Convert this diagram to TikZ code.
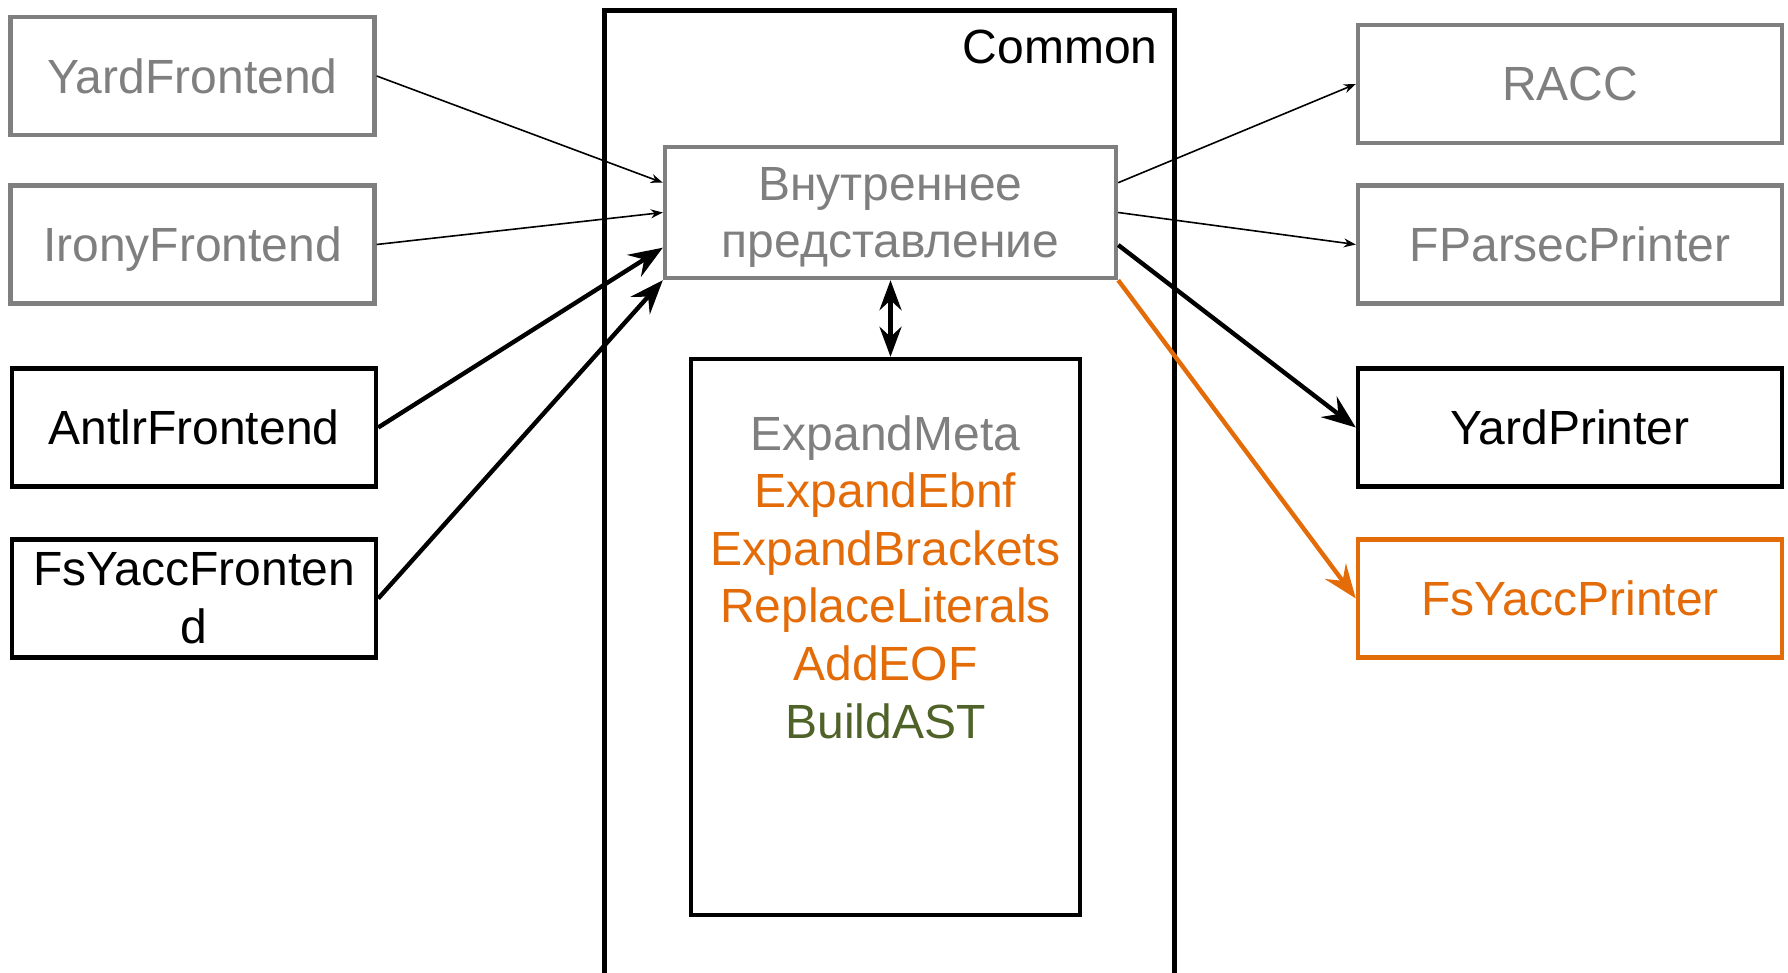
\documentclass[tikz,border=0pt]{standalone}
\usepackage{fontspec}
\setmainfont{Liberation Sans}
\usetikzlibrary{arrows.meta,calc}
\definecolor{boxgray}{HTML}{7F7F7F}
\definecolor{pporange}{HTML}{E36C09}
\definecolor{ppgreen}{HTML}{4F6228}
\begin{document}
\begin{tikzpicture}[x=0.5pt,y=-0.5pt,
  txt/.style={font=\fontsize{24}{28.8}\selectfont, align=center},
  box/.style={txt, draw, rectangle, line width=2.2pt, inner sep=0pt},
  sidebox/.style={box, minimum width=182pt, minimum height=59pt},
  rightbox/.style={box, minimum width=212pt, minimum height=59pt},
  grayed/.style={draw=boxgray, text=boxgray},
  thinarrow/.style={draw=black, line width=0.8pt, -{Stealth[length=6pt,width=4.5pt]}},
  thickarrow/.style={draw=black, line width=2.2pt, -{Stealth[length=17pt,width=13pt,inset=6pt]}},
  orangearrow/.style={thickarrow, draw=pporange, fill=pporange},
  dblarrow/.style={draw=black, line width=2.2pt, {Stealth[length=15pt,width=11pt,inset=5pt]}-{Stealth[length=15pt,width=11pt,inset=5pt]}}
]
\useasboundingbox (0,0) rectangle (1788,973);
% Common frame
\draw[line width=2.5pt] (604,973) -- (604,10.5) -- (1174,10.5) -- (1174,973);
\node[txt, anchor=east, inner sep=0pt] (commonlbl) at (1158,47) {Common};
% left boxes
\node[sidebox, grayed] (yardF) at (192.5,76) {YardFrontend};
\node[sidebox, grayed, text depth=0pt] (ironyF) at (192.5,244.5) {IronyFrontend};
\node[sidebox] (antlrF) at (194,427.5) {AntlrFrontend};
\node[sidebox] (fsyaccF) at (194,598.5) {FsYaccFronten\\d};
% right boxes
\node[rightbox, grayed] (racc) at (1570,84) {RACC};
\node[rightbox, grayed] (fparsec) at (1570,244.5) {FParsecPrinter};
\node[rightbox] (yardP) at (1570,427.5) {YardPrinter};
\node[rightbox, draw=pporange, text=pporange] (fsyaccP) at (1570,598.5) {FsYaccPrinter};
% internal representation
\node[box, grayed, minimum width=225.5pt, minimum height=65.5pt, text depth=0pt] (ir) at (890.5,212.5) {Внутреннее\\представление};
% passes
\node[box, minimum width=194.5pt, minimum height=278pt] (passes) at (885.5,637) {};
\node[txt, inner sep=0pt, anchor=north] (passlist) at (885.5,415) {%
  \textcolor{boxgray}{ExpandMeta}\\
  \textcolor{pporange}{ExpandEbnf}\\
  \textcolor{pporange}{ExpandBrackets}\\
  \textcolor{pporange}{ReplaceLiterals}\\
  \textcolor{pporange}{AddEOF}\\
  \textcolor{ppgreen}{BuildAST}};
% connectors in
\draw[thinarrow] (yardF.east) -- ($(ir.north west)!0.28!(ir.south west)$);
\draw[thinarrow] (ironyF.east) -- ($(ir.north west)!0.5!(ir.south west)$);
\draw[thickarrow] (antlrF.east) -- ($(ir.north west)!0.76!(ir.south west)$);
\draw[thickarrow] (fsyaccF.east) -- (ir.south west);
% connectors out
\draw[thinarrow] ($(ir.north east)!0.28!(ir.south east)$) -- (racc.west);
\draw[thinarrow] ($(ir.north east)!0.5!(ir.south east)$) -- (fparsec.west);
\draw[thickarrow] ($(ir.north east)!0.74!(ir.south east)$) -- (yardP.west);
\draw[orangearrow] (ir.south east) -- (fsyaccP.west);
% double arrow
\draw[dblarrow] (ir.south) -- (ir.south |- passes.north);
\end{tikzpicture}
\end{document}
